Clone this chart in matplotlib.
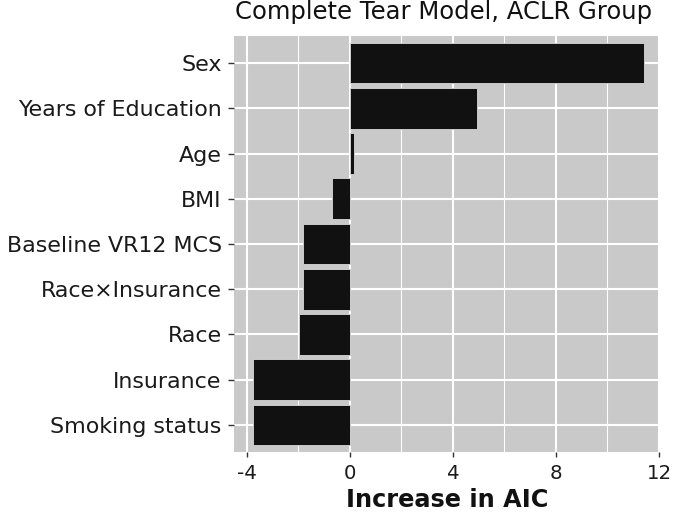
import matplotlib
matplotlib.use("Agg")
import matplotlib.pyplot as plt
from matplotlib.ticker import MultipleLocator

categories = ["Sex", "Years of Education", "Age", "BMI", "Baseline VR12 MCS",
              "Race×Insurance", "Race", "Insurance", "Smoking status"]
values = [11.4, 4.92, 0.17, -0.71, -1.81, -1.81, -1.98, -3.78, -3.78]
xticks = [-4, 0, 4, 8, 12]
xticklabels = ["-4", "0", "4", "8", "12"]

plt.rcParams['font.family'] = ['DejaVu Sans']

fig = plt.figure(figsize=(6.74, 5.13), dpi=100)
ax = fig.add_axes([233.5/674, 1-452/513, (660-233.5)/674, (452-36)/513])
ax.set_facecolor('#c9c9c9')

n = len(categories)
ypos = [n-1-i for i in range(n)]
ax.barh(ypos, values, height=0.9, color='#111111', edgecolor='#d8d8d8',
        linewidth=0.6, zorder=3)

ax.set_xlim(-4.52, 12.04)
ax.set_ylim(-0.6, n-0.4)
ax.set_xticks(xticks)
ax.set_xticklabels(xticklabels)
ax.xaxis.set_minor_locator(MultipleLocator(2))
ax.set_yticks(ypos)
ax.set_yticklabels(categories)

ax.grid(which='major', color='white', linewidth=1.5, zorder=1)
ax.grid(which='minor', axis='x', color='white', linewidth=0.8, zorder=1)
ax.set_axisbelow(True)
for s in ax.spines.values():
    s.set_visible(False)

ax.tick_params(axis='y', which='major', length=4, width=1, color='#333333',
               labelsize=15.9, pad=4.5, labelcolor='#1a1a1a')
ax.tick_params(axis='x', which='major', length=3.5, width=1, color='#333333',
               labelsize=14.2, pad=5, labelcolor='#1a1a1a')
ax.tick_params(axis='x', which='minor', length=0)

ax.set_xlabel("Increase in AIC", fontsize=17.3, fontweight='bold', labelpad=3.5,
              color='#111111')
ax.set_title("Complete Tear Model, ACLR Group", fontsize=17.5, loc='left',
             pad=12, color='#111111', x=0.004)

fig.savefig("out.png", dpi=100)
